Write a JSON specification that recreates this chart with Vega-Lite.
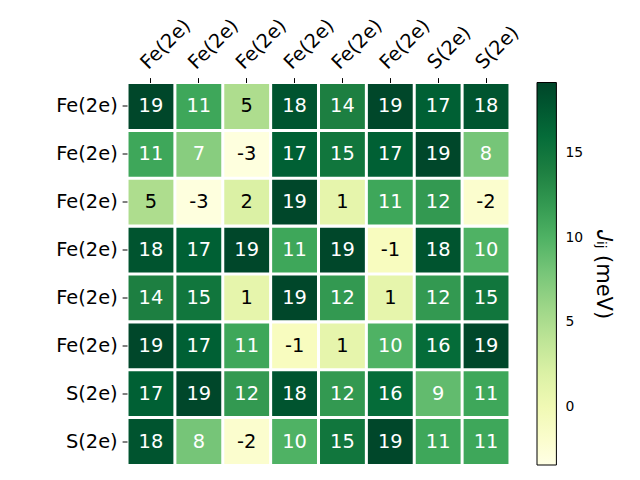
{
  "$schema": "https://vega.github.io/schema/vega-lite/v6.json",
  "width": 383,
  "height": 383,
  "autosize": {"type": "none"},
  "padding": {"left": 127, "top": 82.5, "right": 130, "bottom": 14.5},
  "background": "white",
  "config": {
    "view": {"stroke": null},
    "font": "DejaVu Sans",
    "axis": {
      "labelFont": "DejaVu Sans",
      "labelFontSize": 19.4,
      "labelColor": "black",
      "tickColor": "black",
      "tickSize": 4.9,
      "tickWidth": 1,
      "labelPadding": 4.9,
      "domain": false,
      "grid": false,
      "title": null
    }
  },
  "data": {
    "values": [
      {"r": 0, "c": 0, "v": 19}, {"r": 0, "c": 1, "v": 11}, {"r": 0, "c": 2, "v": 5}, {"r": 0, "c": 3, "v": 18}, {"r": 0, "c": 4, "v": 14}, {"r": 0, "c": 5, "v": 19}, {"r": 0, "c": 6, "v": 17}, {"r": 0, "c": 7, "v": 18},
      {"r": 1, "c": 0, "v": 11}, {"r": 1, "c": 1, "v": 7}, {"r": 1, "c": 2, "v": -3}, {"r": 1, "c": 3, "v": 17}, {"r": 1, "c": 4, "v": 15}, {"r": 1, "c": 5, "v": 17}, {"r": 1, "c": 6, "v": 19}, {"r": 1, "c": 7, "v": 8},
      {"r": 2, "c": 0, "v": 5}, {"r": 2, "c": 1, "v": -3}, {"r": 2, "c": 2, "v": 2}, {"r": 2, "c": 3, "v": 19}, {"r": 2, "c": 4, "v": 1}, {"r": 2, "c": 5, "v": 11}, {"r": 2, "c": 6, "v": 12}, {"r": 2, "c": 7, "v": -2},
      {"r": 3, "c": 0, "v": 18}, {"r": 3, "c": 1, "v": 17}, {"r": 3, "c": 2, "v": 19}, {"r": 3, "c": 3, "v": 11}, {"r": 3, "c": 4, "v": 19}, {"r": 3, "c": 5, "v": -1}, {"r": 3, "c": 6, "v": 18}, {"r": 3, "c": 7, "v": 10},
      {"r": 4, "c": 0, "v": 14}, {"r": 4, "c": 1, "v": 15}, {"r": 4, "c": 2, "v": 1}, {"r": 4, "c": 3, "v": 19}, {"r": 4, "c": 4, "v": 12}, {"r": 4, "c": 5, "v": 1}, {"r": 4, "c": 6, "v": 12}, {"r": 4, "c": 7, "v": 15},
      {"r": 5, "c": 0, "v": 19}, {"r": 5, "c": 1, "v": 17}, {"r": 5, "c": 2, "v": 11}, {"r": 5, "c": 3, "v": -1}, {"r": 5, "c": 4, "v": 1}, {"r": 5, "c": 5, "v": 10}, {"r": 5, "c": 6, "v": 16}, {"r": 5, "c": 7, "v": 19},
      {"r": 6, "c": 0, "v": 17}, {"r": 6, "c": 1, "v": 19}, {"r": 6, "c": 2, "v": 12}, {"r": 6, "c": 3, "v": 18}, {"r": 6, "c": 4, "v": 12}, {"r": 6, "c": 5, "v": 16}, {"r": 6, "c": 6, "v": 9}, {"r": 6, "c": 7, "v": 11},
      {"r": 7, "c": 0, "v": 18}, {"r": 7, "c": 1, "v": 8}, {"r": 7, "c": 2, "v": -2}, {"r": 7, "c": 3, "v": 10}, {"r": 7, "c": 4, "v": 15}, {"r": 7, "c": 5, "v": 19}, {"r": 7, "c": 6, "v": 11}, {"r": 7, "c": 7, "v": 11}
    ]
  },
  "encoding": {
    "x": {
      "field": "c", "type": "ordinal",
      "scale": {"paddingInner": 0.063, "paddingOuter": 0.032},
      "axis": {"orient": "top", "labelAngle": -45, "labelAlign": "left", "labelBaseline": "bottom",
               "labelExpr": "datum.value < 6 ? 'Fe(2e)' : 'S(2e)'"}
    },
    "y": {
      "field": "r", "type": "ordinal",
      "scale": {"paddingInner": 0.063, "paddingOuter": 0.032},
      "axis": {"labelExpr": "datum.value < 6 ? 'Fe(2e)' : 'S(2e)'"}
    }
  },
  "layer": [
    {
      "mark": {"type": "rect"},
      "encoding": {
        "color": {
          "field": "v", "type": "quantitative",
          "scale": {
            "domain": [-3.45, -0.61875, 2.2125, 5.04375, 7.875, 10.70625, 13.5375, 16.36875, 19.2],
            "range": ["#ffffe5", "#f7fcb9", "#d9f0a3", "#addd8e", "#78c679", "#41ab5d", "#238443", "#006837", "#004529"],
            "interpolate": "rgb",
            "nice": false, "zero": false
          },
          "legend": {
            "orient": "right",
            "offset": 27,
            "direction": "vertical",
            "gradientLength": 382.5,
            "gradientThickness": 19.4,
            "gradientStrokeColor": "black",
            "gradientStrokeWidth": 1,
            "values": [0, 5, 10, 15],
            "labelFontSize": 13.9,
            "labelFont": "DejaVu Sans",
            "labelColor": "black",
            "labelOffset": 9,
            "title": "𝐽ᵢⱼ (meV)",
            "titleOrient": "right",
            "titleFontSize": 21,
            "titleFont": "DejaVu Sans",
            "titleFontWeight": "normal",
            "titleColor": "black",
            "titlePadding": 10
          }
        }
      }
    },
    {
      "mark": {"type": "text", "font": "DejaVu Sans", "fontSize": 19.4, "baseline": "middle", "align": "center"},
      "encoding": {
        "text": {"field": "v", "type": "nominal"},
        "color": {
          "condition": {"test": "datum.v < 6", "value": "black"},
          "value": "white"
        }
      }
    }
  ]
}
